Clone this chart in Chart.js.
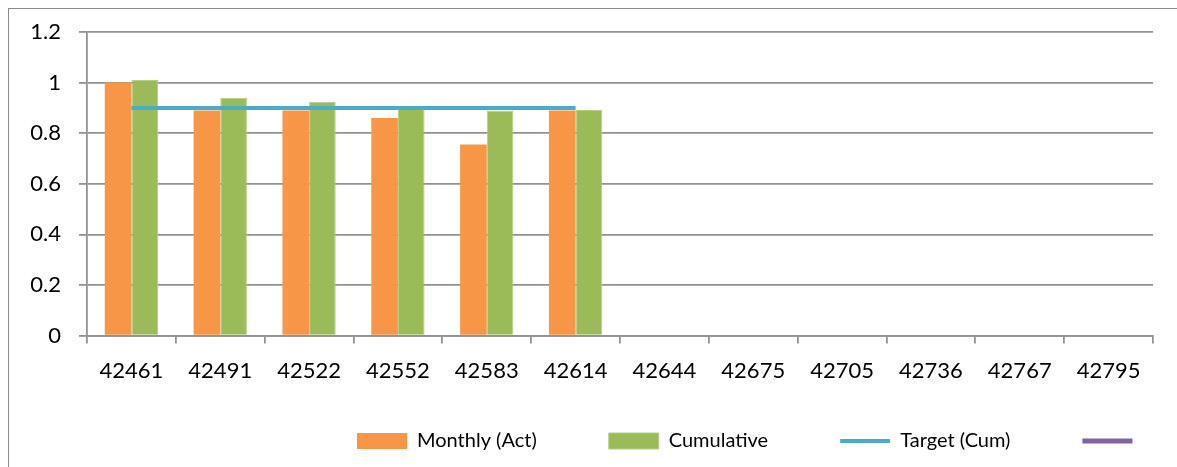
<!DOCTYPE html>
<html>
<head>
<meta charset="utf-8">
<script src="https://cdn.jsdelivr.net/npm/chart.js@4/dist/chart.umd.min.js"></script>
<style>
  html, body { margin: 0; padding: 0; background: #fff; overflow: hidden; }
  #wrap { position: relative; width: 1177px; height: 467px; }
  #frame { position: absolute; left: 8px; top: 8px; width: 1300px; height: 600px; border: 1.5px solid #8c8c8c; box-sizing: border-box; }
  canvas { position: absolute; left: 0; top: 0; }
</style>
</head>
<body>
<div id="wrap">
  <div id="frame"></div>
  <canvas id="c" width="1177" height="467"></canvas>
</div>
<script>
const categories = ['42461','42491','42522','42552','42583','42614','42644','42675','42705','42736','42767','42795'];
const monthlyAct = [1.0, 0.89, 0.89, 0.86, 0.755, 0.89, null, null, null, null, null, null];
const cumulative = [1.01, 0.94, 0.924, 0.907, 0.89, 0.892, null, null, null, null, null, null];
const targetCum = [0.9, 0.9, 0.9, 0.9, 0.9, 0.9, null, null, null, null, null, null];
const emptySeries = [null, null, null, null, null, null, null, null, null, null, null, null];
const seriesLabels = ['Monthly (Act)', 'Cumulative', 'Target (Cum)', ''];
const yTicks = [0, 0.2, 0.4, 0.6, 0.8, 1, 1.2];

const legendMover = {
  id: 'legendMover',
  afterLayout(chart) {
    const lg = chart.legend;
    if (!lg) return;
    const pad = lg.options.labels.padding;
    lg.left = 357 - pad;
    lg.right = lg.left + 3000;
    lg.top = 441 - pad - 10;
  }
};

new Chart(document.getElementById('c'), {
  type: 'bar',
  data: {
    labels: categories,
    datasets: [
      { type: 'bar', label: seriesLabels[0], data: monthlyAct, backgroundColor: '#F79646', borderWidth: 0,
        barPercentage: 1.0, categoryPercentage: 0.6, pointStyle: 'rect' },
      { type: 'bar', label: seriesLabels[1], data: cumulative, backgroundColor: '#9BBB59', borderColor: '#b3cd84', borderWidth: 1,
        barPercentage: 1.0, categoryPercentage: 0.6, pointStyle: 'rect' },
      { type: 'line', label: seriesLabels[2], data: targetCum, borderColor: '#4BACC6', backgroundColor: '#4BACC6',
        borderWidth: 4, pointRadius: 0, pointStyle: 'line', fill: false, order: -1 },
      { type: 'line', label: seriesLabels[3], data: emptySeries, borderColor: '#8064A2', backgroundColor: '#8064A2',
        borderWidth: 5, borderCapStyle: 'round', pointRadius: 0, pointStyle: 'line', fill: false, order: -1 }
    ]
  },
  options: {
    responsive: false,
    animation: false,
    devicePixelRatio: 1,
    layout: { padding: { left: 0, right: 24, top: 32, bottom: 0 } },
    plugins: {
      tooltip: { enabled: false },
      legend: {
        position: 'bottom',
        align: 'start',
        maxHeight: 69,
        labels: {
          usePointStyle: true,
          pointStyleWidth: 50,
          boxHeight: 16,
          padding: 72,
          color: '#000',
          font: { family: 'Lato', size: 20 },
          sort: (a, b) => a.datasetIndex - b.datasetIndex
        }
      }
    },
    scales: {
      x: {
        offset: true,
        grid: { display: true, drawOnChartArea: false, drawTicks: true, tickLength: 8, color: '#929292', lineWidth: 1.8, offset: true },
        border: { display: true, color: '#929292', width: 1.8 },
        ticks: { color: '#000', font: { family: 'Lato', size: 22 }, padding: 14, maxRotation: 0, autoSkip: false }
      },
      y: {
        min: 0,
        max: 1.2,
        afterFit(scale) { scale.width = 87; },
        afterBuildTicks(scale) { scale.ticks = yTicks.map(v => ({ value: v })); },
        grid: { color: '#929292', lineWidth: 1.8, tickLength: 8, drawTicks: true },
        border: { display: true, color: '#929292', width: 1.8 },
        ticks: { color: '#000', font: { family: 'Lato', size: 22 }, padding: 18,
          callback: (v) => String(Number(v.toFixed(1))) }
      }
    }
  },
  plugins: [legendMover]
});
</script>
</body>
</html>
